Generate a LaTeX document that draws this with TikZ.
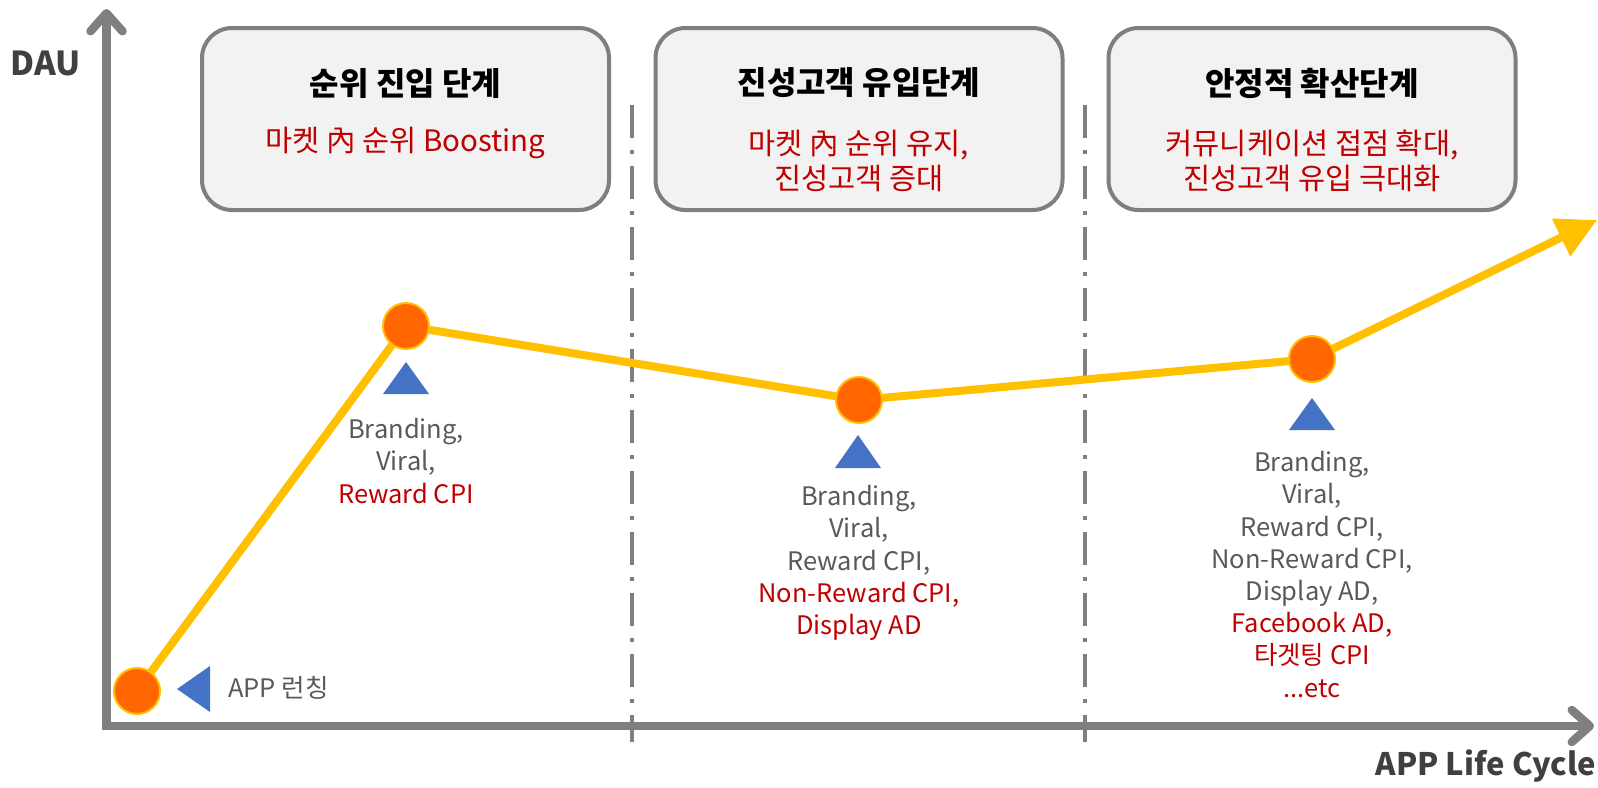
\documentclass[tikz,border=0pt]{standalone}
\usepackage{fontspec}
\setmainfont{Noto Sans CJK KR}
\usetikzlibrary{arrows.meta}
\definecolor{axisgray}{HTML}{7F7F7F}
\definecolor{boxfill}{HTML}{F2F2F2}
\definecolor{linegold}{HTML}{FFC000}
\definecolor{dotorange}{HTML}{FF6600}
\definecolor{markblue}{HTML}{4472C4}
\definecolor{txtgray}{HTML}{595959}
\definecolor{txtred}{HTML}{C00000}
\definecolor{labdark}{HTML}{404040}
\tikzset{
  axisline/.style={line width=8.5pt, axisgray,
    -{Straight Barb[length=18pt,width=32pt,line cap=round,line join=round]}},
  phasebox/.style={draw=axisgray, line width=4pt, fill=boxfill, rounded corners=30pt,
    minimum width=407pt, minimum height=182pt, inner sep=0pt},
  phasetitle/.style={font=\bfseries\fontsize{32}{38}\selectfont, text=black, inner sep=0pt},
  phasesub/.style={font=\fontsize{29.5}{35}\selectfont, text=txtred, align=center, inner sep=0pt},
  divider/.style={axisgray, line width=3.5pt, dash pattern=on 33pt off 12pt on 4pt off 12pt},
  curve/.style={linegold, line width=8pt, line join=round,
    -{Triangle[length=40pt,width=40pt]}},
  dot/.style={circle, fill=dotorange, draw=linegold, line width=2pt, minimum size=46pt, inner sep=0pt},
  marker/.style={fill=markblue},
  mlabel/.style={font=\fontsize{25.5}{32.2}\selectfont, text=txtgray, align=center, inner sep=0pt},
  axislabel/.style={font=\bfseries\fontsize{33}{40}\selectfont, text=labdark, inner sep=0pt}
}
\begin{document}
\begin{tikzpicture}[x=1pt,y=-1pt]
\useasboundingbox (0,0) rectangle (1598,787);

% axes
\coordinate (O) at (106.5,730);
\coordinate (Ocorner) at (102.5,726);
\coordinate (Ytop) at (106.5,9);
\coordinate (Xend) at (1594,726);
\draw[axisline] (O) -- (Ytop);
\draw[axisline] (Ocorner) -- (Xend);
\node[axislabel] (dau) at (46,63) {DAU};
\node[axislabel, anchor=east, font=\bfseries\fontsize{31}{38}\selectfont] (alc) at (1596,766) {APP Life Cycle};

% dividers
\coordinate (d1t) at (632,105);
\coordinate (d1b) at (632,742);
\coordinate (d2t) at (1085,105);
\coordinate (d2b) at (1085,742);
\draw[divider] (d1t) -- (d1b);
\draw[divider] (d2t) -- (d2b);

% phase boxes
\node[phasebox] (b1) at (405.5,119) {};
\node[phasebox] (b2) at (859,119) {};
\node[phasebox] (b3) at (1312,119) {};
\node[phasetitle] (t1) at (405.5,83) {순위 진입 단계};
\node[phasetitle] (t2) at (859,83) {진성고객 유입단계};
\node[phasetitle] (t3) at (1312,83) {안정적 확산단계};
\node[phasesub] (s1) at (405.5,143) {마켓 內 순위 Boosting};
\node[phasesub] (s2) at (859,160.5) {마켓 內 순위 유지,\\진성고객 증대};
\node[phasesub] (s3) at (1312,160.5) {커뮤니케이션 접점 확대,\\진성고객 유입 극대화};

% curve
\coordinate (c0) at (137,691);
\coordinate (c1) at (406,326);
\coordinate (c2) at (859,400);
\coordinate (c3) at (1312,359);
\coordinate (cend) at (1597,220);
\draw[curve] (c0) -- (c1) -- (c2) -- (c3) -- (cend);
\node[dot] (p0) at (c0) {};
\node[dot] (p1) at (c1) {};
\node[dot] (p2) at (c2) {};
\node[dot] (p3) at (c3) {};

% markers
\fill[marker] (177,689) -- (210,666) -- (210,712) -- cycle;
\fill[marker] (406,362) -- (429,394) -- (383,394) -- cycle;
\fill[marker] (858,435) -- (881,468) -- (835,468) -- cycle;
\fill[marker] (1312,398) -- (1335,430) -- (1289,430) -- cycle;

% labels
\node[mlabel, anchor=west] (l0) at (228,688) {APP 런칭};
\node[mlabel] (l1) at (406,461) {Branding,\\Viral,\\\textcolor{txtred}{Reward CPI}};
\node[mlabel] (l2) at (859,563) {Branding,\\Viral,\\Reward CPI,\\\textcolor{txtred}{Non-Reward CPI,}\\\textcolor{txtred}{Display AD}};
\node[mlabel] (l3) at (1312,574.5) {Branding,\\Viral,\\Reward CPI,\\Non-Reward CPI,\\Display AD,\\\textcolor{txtred}{Facebook AD,}\\\textcolor{txtred}{타겟팅 CPI}\\\textcolor{txtred}{...etc}};
\end{tikzpicture}
\end{document}
